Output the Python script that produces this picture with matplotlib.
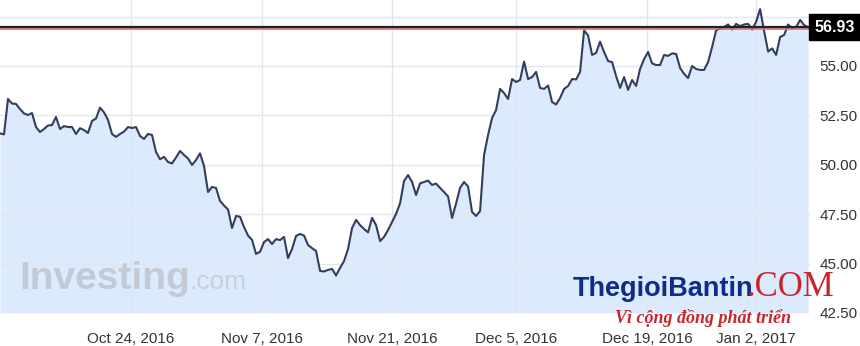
import numpy as np
import matplotlib
matplotlib.use("Agg")
import matplotlib.pyplot as plt

# price samples, evenly spaced along the (trading-time) x axis
prices = [
    51.59, 51.54, 53.33, 53.10, 53.08, 52.82, 52.60, 52.52, 52.62, 51.91,
    51.66, 51.81, 51.99, 52.01, 52.42, 51.81, 51.96, 51.91, 51.91, 51.56,
    51.85, 51.76, 51.61, 52.22, 52.34, 52.89, 52.65, 52.27, 51.56, 51.41,
    51.56, 51.68, 51.91, 51.86, 51.91, 51.46, 51.31, 51.56, 51.51, 50.65,
    50.28, 50.40, 50.14, 50.07, 50.37, 50.70, 50.50, 50.32, 49.99, 50.24,
    50.58, 49.94, 48.62, 48.88, 48.83, 48.17, 47.94, 47.74, 46.80, 47.41,
    47.37, 46.85, 46.42, 46.20, 45.49, 45.60, 46.09, 46.24, 45.99, 46.24,
    46.19, 46.35, 45.28, 45.74, 46.40, 46.50, 46.42, 45.94, 45.78, 45.64,
    44.63, 44.60, 44.68, 44.73, 44.40, 44.78, 45.13, 45.74, 46.80, 47.21,
    46.95, 46.75, 46.58, 47.31, 46.95, 46.14, 46.35, 46.70, 47.11, 47.51,
    48.05, 49.18, 49.48, 49.13, 48.47, 49.06, 49.13, 49.20, 48.98, 49.05,
    48.83, 48.62, 48.40, 47.31, 48.04, 48.83, 49.13, 48.90, 47.61, 47.41,
    47.66, 50.50, 51.51, 52.37, 52.77, 53.84, 53.63, 53.33, 54.34, 54.19,
    54.29, 55.22, 54.34, 54.44, 54.70, 53.89, 53.84, 54.01, 53.18, 53.05,
    53.38, 53.84, 53.99, 54.34, 54.32, 54.70, 56.80, 56.54, 55.56, 55.66,
    56.23, 55.71, 55.25, 55.20, 54.49, 53.89, 54.44, 53.79, 54.29, 53.99,
    54.85, 55.35, 55.71, 55.13, 55.05, 55.05, 55.56, 55.51, 55.64, 55.61,
    54.90, 54.60, 54.39, 55.00, 54.85, 54.80, 54.80, 55.20, 55.96, 56.80,
    56.90, 56.97, 57.10, 56.85, 57.13, 57.02, 57.10, 57.13, 56.85, 57.23,
    57.88, 56.77, 55.73, 55.89, 55.56, 56.47, 56.57, 57.10, 56.91, 56.97,
    57.33, 57.07, 56.96,
]

tick_pos = [32.75, 65.5, 98, 129, 161.75, 189]
tick_labels = ["Oct 24, 2016", "Nov 7, 2016", "Nov 21, 2016",
               "Dec 5, 2016", "Dec 19, 2016", "Jan 2, 2017"]
y_ticks = [42.5, 45.0, 47.5, 50.0, 52.5, 55.0, 57.5]
y_labels = ["42.50", "45.00", "47.50", "50.00", "52.50", "55.00", ""]

last_line = 56.97
ref_line = 56.86
last_label = "56.93"

plt.rcParams['font.family'] = ['Liberation Sans', 'DejaVu Sans']

x = np.arange(len(prices))
fig = plt.figure(figsize=(8.6, 3.46), dpi=100)
ax = fig.add_axes([0, 0.0954, 0.942, 0.9046])

ax.fill_between(x, prices, 42.5, color='#dbeafd', lw=0, zorder=1)
ax.plot(x, prices, color='#343e5c', lw=1.5, zorder=3)
ax.axhline(last_line, color='#222222', lw=1.6, zorder=3.2)
ax.axhline(ref_line, color='#e07070', lw=1.2, zorder=3.1)

ax.set_xlim(0, 202.5)
ax.set_ylim(42.5, 58.34)
ax.set_xticks(tick_pos)
ax.set_xticklabels(tick_labels)
ax.set_yticks(y_ticks)
ax.set_yticklabels(y_labels)
ax.yaxis.tick_right()
ax.tick_params(axis='both', length=0, labelsize=11, colors='#333333')
ax.tick_params(axis='x', pad=14)
ax.tick_params(axis='y', pad=7)
ax.set_axisbelow(False)
ax.grid(True, color='#e1e6ee', lw=1)
for s in ax.spines.values():
    s.set_visible(False)

ax.text(1.006, last_line, last_label, transform=ax.get_yaxis_transform(),
        ha='left', va='center', color='white', fontsize=11.5, fontweight='bold',
        bbox=dict(boxstyle='square,pad=0.35', fc='black', ec='black'), zorder=5)

# watermarks
fig.text(0.022, 0.165, "Investing", fontsize=28, fontweight='bold',
         color='#c3cad6', ha='left', va='baseline')
fig.text(0.221, 0.165, ".com", fontsize=19, color='#c9d0db',
         ha='left', va='baseline')
fig.text(0.666, 0.145, "ThegioiBantin", fontsize=19.5, fontweight='bold',
         color='#0d2c8c', ha='left', va='baseline')
fig.text(0.868, 0.145, ".COM", fontsize=25, family=['Liberation Serif', 'DejaVu Serif'],
         color='#c8262c', ha='left', va='baseline')
fig.text(0.818, 0.08, "Vì cộng đồng phát triển", fontsize=13, fontweight='bold',
         style='italic', family=['Liberation Serif', 'DejaVu Serif'],
         color='#c8262c', ha='center', va='center', zorder=10)

plt.savefig("out.png", dpi=100)
